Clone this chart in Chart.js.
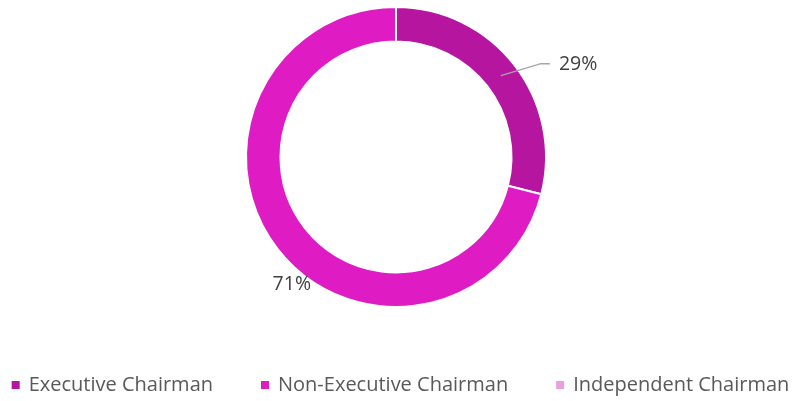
<!DOCTYPE html>
<html>
<head>
<meta charset="utf-8">
<script src="https://cdn.jsdelivr.net/npm/chart.js@4"></script>
<style>
  html, body { margin: 0; padding: 0; background: #fff; }
  #wrap { width: 795px; height: 401px; position: relative; }
</style>
</head>
<body>
<div id="wrap"><canvas id="chairChart"></canvas></div>
<script>
const labels = ["Executive Chairman", "Non-Executive Chairman", "Independent Chairman"];
const shares = [29, 71, 0];
const colors = ["#B5159F", "#DF1BC4", "#E9A0DE"];

const FONT = "'Open Sans', sans-serif";

// percentage labels, 29% with leader line, 71% placed outside the ring
const pctLabels = {
  id: "pctLabels",
  afterDatasetsDraw(chart) {
    const ctx = chart.ctx;
    const arcs = chart.getDatasetMeta(0).data;
    ctx.save();
    ctx.font = "19.5px " + FONT;
    ctx.fillStyle = "#404040";
    ctx.textBaseline = "middle";

    // first slice: leader line from the middle of the ring
    const a0 = arcs[0];
    const mid0 = (a0.startAngle + a0.endAngle) / 2;
    const rMid = (a0.innerRadius + a0.outerRadius) / 2;
    const sx = a0.x + Math.cos(mid0) * rMid;
    const sy = a0.y + Math.sin(mid0) * rMid;
    const ex = sx + 40, ey = sy - 12;
    ctx.strokeStyle = "#A6A6A6";
    ctx.lineWidth = 1.5;
    ctx.beginPath();
    ctx.moveTo(sx, sy);
    ctx.lineTo(ex, ey);
    ctx.lineTo(ex + 9, ey);
    ctx.stroke();
    ctx.textAlign = "left";
    ctx.fillText(shares[0] + "%", ex + 18, ey + 1);

    // second slice: label just outside the ring
    const a1 = arcs[1];
    const ang1 = a1.startAngle + (a1.endAngle - a1.startAngle) * 0.449;
    const r1 = a1.outerRadius * 1.1;
    ctx.textAlign = "center";
    ctx.fillText(shares[1] + "%", a1.x + Math.cos(ang1) * r1, a1.y + Math.sin(ang1) * r1);
    ctx.restore();
  }
};

// bottom legend, items separated by a fixed gap
const bottomLegend = {
  id: "bottomLegend",
  afterDraw(chart) {
    const ctx = chart.ctx;
    ctx.save();
    ctx.font = "20px " + FONT;
    const box = 8, textGap = 9, itemGap = 48;
    const widths = labels.map(l => box + textGap + ctx.measureText(l).width);
    const total = widths.reduce((s, w) => s + w, 0) + itemGap * (labels.length - 1);
    let x = (chart.width - total) / 2 + 3;
    const y = 385;
    ctx.textBaseline = "middle";
    ctx.textAlign = "left";
    labels.forEach((l, i) => {
      ctx.fillStyle = colors[i];
      ctx.fillRect(x, y - box / 2, box, box);
      ctx.fillStyle = "#595959";
      ctx.fillText(l, x + box + textGap, y);
      x += widths[i] + itemGap;
    });
    ctx.restore();
  }
};

new Chart(document.getElementById("chairChart"), {
  type: "doughnut",
  data: {
    labels: labels,
    datasets: [{
      data: shares,
      backgroundColor: colors,
      borderColor: "#ffffff",
      borderWidth: 2
    }]
  },
  options: {
    responsive: true,
    maintainAspectRatio: false,
    animation: false,
    cutout: "77%",
    layout: { padding: { top: 6, bottom: 93, left: 0, right: 3 } },
    plugins: {
      legend: { display: false },
      tooltip: { enabled: false }
    }
  },
  plugins: [pctLabels, bottomLegend]
});
</script>
</body>
</html>
